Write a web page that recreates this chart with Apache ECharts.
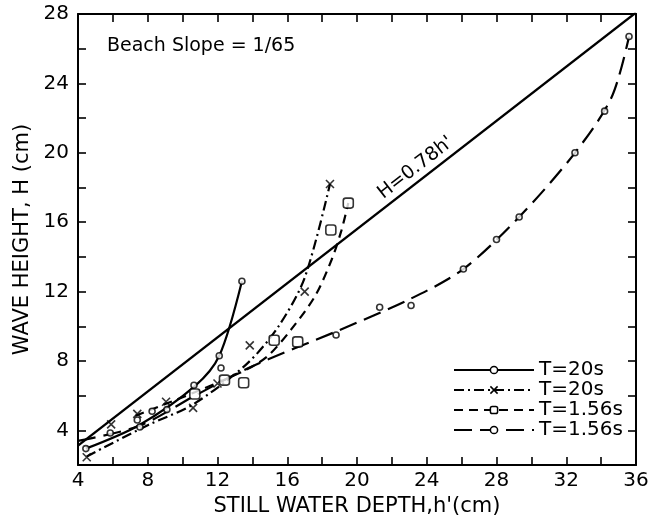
<!DOCTYPE html>
<html><head><meta charset="utf-8">
<script src="https://cdn.jsdelivr.net/npm/echarts@6/dist/echarts.min.js"></script>
<style>html,body{margin:0;padding:0;background:#fff}#c{width:663px;height:522px}</style>
</head><body><div id="c"></div>
<script>
// ---- data ----
const legendKeys = ['a', 'b', 'c', 'd'];
const legendLabels = ['T=20s', 'T=20s', 'T=1.56s', 'T=1.56s'];
const limitLine = [[4, 3.12], [36, 28.08]];           // H = 0.78 h'
const limitLabel = "H=0.78h'";
const noteText = 'Beach Slope = 1/65';

// fitted curves
const curveA = [[4.45,2.95],[7.5,4.3],[10.7,6.55],[12.1,8.3],[13.4,12.6]];
const curveB = [[4.5,2.5],[8.0,4.3],[10.6,5.5],[13.7,7.85],[15.5,10.0],[17.0,12.8],[18.45,18.2]];
const curveC = [[7.3,4.85],[10.7,6.2],[13.75,7.55],[14.9,8.3],[16.25,9.85],[17.6,11.75],[18.55,13.85],[19.1,15.5],[19.5,17.1]];
const curveD = [[4.0,3.4],[7.5,4.25],[10.7,6.0],[14.0,7.7],[18.8,9.7],[23.1,11.6],[26.1,13.3],[29.3,16.3],[32.5,20.0],[34.6,23.2],[35.6,26.7]];

// measured points
const pointsA = [[4.45,2.95],[7.4,4.6],[8.25,5.1],[10.65,6.6],[12.1,8.3],[12.2,7.6],[13.4,12.6]];
const pointsB = [[4.5,2.45],[5.9,4.35],[7.4,4.95],[9.05,5.65],[10.6,5.3],[12.0,6.7],[13.85,8.9],[17.0,12.0],[18.45,18.2]];
const pointsC = [[10.7,6.1],[12.4,6.9],[13.5,6.75],[15.25,9.2],[16.6,9.1],[18.5,15.55],[19.5,17.1]];
const pointsD = [[5.85,3.85],[7.55,4.2],[9.1,5.2],[18.8,9.5],[21.3,11.1],[23.1,11.2],[26.1,13.3],[28.0,15.0],[29.3,16.3],[32.5,20.0],[34.2,22.4],[35.6,26.7]];

// ---- chart ----
const FONT = 'DejaVu Sans';
const xSym = 'path://M0,0L10,10M10,0L0,10';
const styles = {
  a: { dash: 'solid', symbol: 'circle', size: 6 },
  b: { dash: [10, 4, 2, 4], symbol: xSym, size: 8 },
  c: { dash: [9, 6], symbol: 'roundRect', size: 10 },
  d: { dash: [18, 8], symbol: 'circle', size: 6 }
};
const curves = { a: curveA, b: curveB, c: curveC, d: curveD };
const points = { a: pointsA, b: pointsB, c: pointsC, d: pointsD };

const chart = echarts.init(document.getElementById('c'), null, { renderer: 'canvas' });
const fmt4 = v => (v % 4 === 0 ? String(v) : '');
const axisLine = { show: true, lineStyle: { color: '#000', width: 2 } };
const tick = { show: true, inside: true, length: 8, lineStyle: { color: '#000', width: 1.6 } };

const series = [{
  type: 'line', name: 'lim', data: limitLine, symbol: 'none', silent: true,
  lineStyle: { color: '#000', width: 2.4 }, z: 2
}];
legendKeys.forEach(k => {
  const s = styles[k];
  series.push({
    type: 'line', name: k, data: curves[k], showSymbol: false, symbol: s.symbol,
    smooth: 0.3,
    lineStyle: { color: '#000', width: 2.2, type: s.dash },
    itemStyle: { color: '#fff', borderColor: '#000', borderWidth: 1.5 },
    z: 3
  });
  series.push({
    type: 'scatter', name: k + '_pts', data: points[k], symbol: s.symbol, symbolSize: s.size,
    itemStyle: { color: '#fff', borderColor: '#000', borderWidth: 1.6 }, z: 4
  });
});

chart.setOption({
  animation: false,
  backgroundColor: '#fff',
  title: {
    text: noteText, left: 102, top: 32,
    textStyle: { fontFamily: FONT, fontSize: 19, fontWeight: 'normal', color: '#000' }
  },
  grid: { left: 78, right: 27, top: 14, bottom: 55 },
  xAxis: [{
    type: 'value', min: 4, max: 36, interval: 2, position: 'bottom',
    name: "STILL WATER DEPTH,h'(cm)", nameLocation: 'middle', nameGap: 28,
    nameTextStyle: { fontFamily: FONT, fontSize: 21, color: '#000' },
    axisLine, axisTick: tick, splitLine: { show: false },
    axisLabel: { formatter: fmt4, fontFamily: FONT, fontSize: 20, color: '#000', margin: 6 }
  }, {
    type: 'value', min: 4, max: 36, interval: 2, position: 'top',
    axisLine, axisTick: tick, splitLine: { show: false }, axisLabel: { show: false }
  }],
  yAxis: [{
    type: 'value', min: 2, max: 28, interval: 2, position: 'left',
    name: 'WAVE HEIGHT, H (cm)', nameLocation: 'middle', nameGap: 44,
    nameTextStyle: { fontFamily: FONT, fontSize: 21, color: '#000' },
    axisLine, axisTick: tick, splitLine: { show: false },
    axisLabel: { formatter: fmt4, fontFamily: FONT, fontSize: 20, color: '#000', margin: 9 }
  }, {
    type: 'value', min: 2, max: 28, interval: 2, position: 'right',
    axisLine, axisTick: tick, splitLine: { show: false }, axisLabel: { show: false }
  }],
  legend: {
    orient: 'vertical', left: 448, top: 355, selectedMode: false,
    itemWidth: 80, itemHeight: 9, itemGap: 0,
    formatter: n => legendLabels[legendKeys.indexOf(n)],
    textStyle: { fontFamily: FONT, fontSize: 20, color: '#000', lineHeight: 20 },
    data: legendKeys.map(k => ({
      name: k,
      itemStyle: { color: '#fff', borderColor: '#000', borderWidth: 1.5 },
      lineStyle: { color: '#000', width: 2, type: styles[k].dash }
    }))
  },
  series
});

// label along the limit line, placed through the chart's own scales
const p1 = chart.convertToPixel({ gridIndex: 0 }, limitLine[0]);
const p2 = chart.convertToPixel({ gridIndex: 0 }, limitLine[1]);
const ang = Math.atan2(p1[1] - p2[1], p2[0] - p1[0]);
const lx = 23.8;
const pos = chart.convertToPixel({ gridIndex: 0 }, [lx, 3.12 + (lx - 4) * (28.08 - 3.12) / 32]);
chart.setOption({
  graphic: [{
    type: 'text', x: pos[0], y: pos[1], rotation: ang, z: 10,
    style: { text: limitLabel, fontFamily: FONT, fontSize: 19, fill: '#000', align: 'center', verticalAlign: 'bottom', y: -3 }
  }]
});
</script>
</body></html>
